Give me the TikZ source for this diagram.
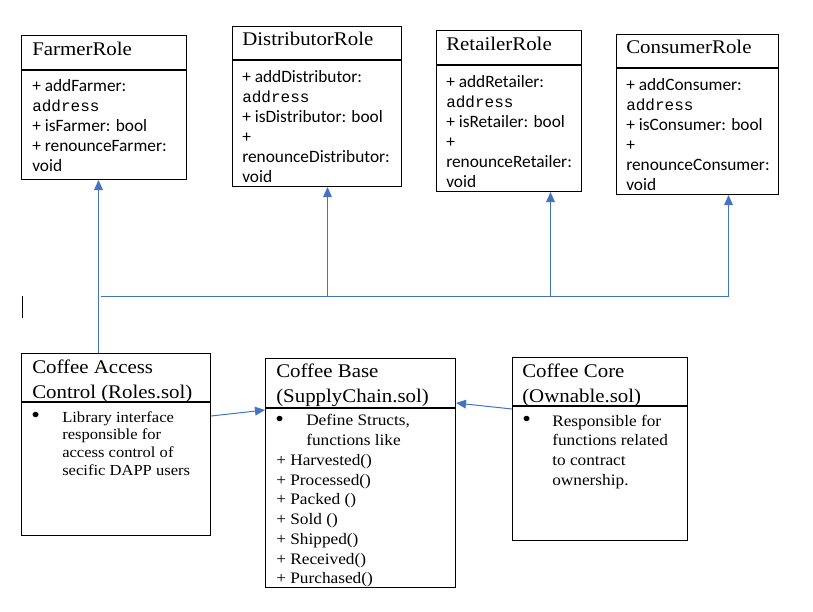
\documentclass[tikz,border=0pt]{standalone}
\usepackage{fontspec}
\setmainfont{Liberation Serif}[FakeStretch=1.08]
\setsansfont{Carlito}
\setmonofont{Liberation Mono}
\usetikzlibrary{arrows.meta,calc,positioning}
\definecolor{linkblue}{HTML}{4472C4}
\newcommand{\addr}{\texttt{\fontsize{12}{15}\selectfont address}}
\tikzset{
    boxpart/.style={draw=black,line width=0.75pt,rectangle,inner sep=0pt,anchor=north west},
    headtext/.style={anchor=base west,inner sep=0pt,align=left,font=\fontsize{14.5}{18.75}\selectfont},
    roletext/.style={anchor=base west,inner sep=0pt,align=left,font=\sffamily\fontsize{13}{15}\selectfont},
    notetext/.style={anchor=base west,inner sep=0pt,align=left,font=\fontsize{12}{14.8}\selectfont},
    smallnote/.style={notetext,font=\fontsize{11.5}{13.3}\selectfont},
    dot/.style={anchor=base west,inner sep=0pt,font=\fontsize{17}{17}\selectfont},
    link/.style={draw=linkblue,line width=0.75pt},
    uses/.style={link,-{Triangle[length=7.5pt,width=6.5pt]}}
}

\begin{document}
\begin{tikzpicture}[x=0.75pt,y=-0.75pt]
    \useasboundingbox (0,0) rectangle (813,611);

    % role classes (text nodes sit on their last baseline)
    \node[boxpart,minimum width=123.75pt,minimum height=25.5pt] (farmerhead) at (21,35) {};
    \node[boxpart,minimum width=123.75pt,minimum height=81.75pt] (farmer) at (farmerhead.south west) {};
    \node[headtext] (farmertitle) at (32,55) {FarmerRole};
    \node[roletext] (farmerops) at (32,171) {+ addFarmer:\\\addr\\+ isFarmer: bool\\+ renounceFarmer:\\void};

    \node[boxpart,minimum width=126.75pt,minimum height=24.75pt] (distributorhead) at (232,26) {};
    \node[boxpart,minimum width=126.75pt,minimum height=94.5pt] (distributor) at (distributorhead.south west) {};
    \node[headtext] (distributortitle) at (242,45) {DistributorRole};
    \node[roletext] (distributorops) at (242,182) {+ addDistributor:\\\addr\\+ isDistributor: bool\\+\\renounceDistributor:\\void};

    \node[boxpart,minimum width=108.75pt,minimum height=25.5pt] (retailerhead) at (436,30) {};
    \node[boxpart,minimum width=108.75pt,minimum height=94.5pt] (retailer) at (retailerhead.south west) {};
    \node[headtext] (retailertitle) at (446,50) {RetailerRole};
    \node[roletext] (retailerops) at (446,187) {+ addRetailer:\\\addr\\+ isRetailer: bool\\+\\renounceRetailer:\\void};

    \node[boxpart,minimum width=121.5pt,minimum height=24.75pt] (consumerhead) at (616,34) {};
    \node[boxpart,minimum width=121.5pt,minimum height=94.5pt] (consumer) at (consumerhead.south west) {};
    \node[headtext] (consumertitle) at (626,53) {ConsumerRole};
    \node[roletext] (consumerops) at (626,190) {+ addConsumer:\\\addr\\+ isConsumer: bool\\+\\renounceConsumer:\\void};

    % contracts
    \node[boxpart,minimum width=141.75pt,minimum height=36pt] (accesshead) at (21,353) {};
    \node[boxpart,minimum width=141.75pt,minimum height=99.75pt] (access) at (accesshead.south west) {};
    \node[headtext] (accesstitle) at (32,398) {Coffee Access\\Control (Roles.sol)};
    \node[dot] (accessdot) at (31,422) {\textbullet};
    \node[smallnote] (accessnote) at (62,475.2) {Library interface\\responsible for\\access control of\\secific DAPP users};

    \node[boxpart,minimum width=142.5pt,minimum height=36.75pt] (basehead) at (265,358) {};
    \node[boxpart,minimum width=142.5pt,minimum height=134.25pt] (base) at (basehead.south west) {};
    \node[headtext] (basetitle) at (276,402) {Coffee Base\\(SupplyChain.sol)};
    \node[dot] (basedot) at (275,426) {\textbullet};
    \node[notetext] (basenote) at (306,445.7) {Define Structs,\\functions like};
    \begin{scope}
        \clip (base.north west) rectangle (base.south east);
        \node[notetext] (baseops) at (276,583.8) {+ Harvested()\\+ Processed()\\+ Packed ()\\+ Sold ()\\+ Shipped()\\+ Received()\\+ Purchased()};
    \end{scope}

    \node[boxpart,minimum width=131.25pt,minimum height=36pt] (corehead) at (512,357) {};
    \node[boxpart,minimum width=131.25pt,minimum height=100.5pt] (core) at (corehead.south west) {};
    \node[headtext] (coretitle) at (522,402) {Coffee Core\\(Ownable.sol)};
    \node[dot] (coredot) at (522,426) {\textbullet};
    \node[notetext] (corenote) at (552,485.2) {Responsible for\\functions related\\to contract\\ownership.};

    % inheritance lines
    \coordinate (farmertip) at ($(farmer.south)+(-5.5,0)$);
    \coordinate (distributortip) at ($(distributor.south)+(10.5,0)$);
    \coordinate (retailertip) at ($(retailer.south)+(41.5,0)$);
    \coordinate (consumertip) at ($(consumer.south)+(31,0)$);
    \coordinate (busstart) at (101,296);

    \draw[uses] (farmertip |- accesshead.north) -- (farmertip);
    \draw[link] (busstart) -- (consumertip |- busstart);
    \draw[uses] (distributortip |- busstart) -- (distributortip);
    \draw[uses] (retailertip |- busstart) -- (retailertip);
    \draw[uses] (consumertip |- busstart) -- (consumertip);

    \draw[uses] ($(access.north east)+(0,14)$) -- ($(base.north west)+(0,2)$);
    \draw[uses] ($(core.north west)+(0,3)$) -- ($(basehead.south east)+(0,-5)$);

    % text cursor
    \draw[line width=0.75pt] (22,296) -- (22,318);
\end{tikzpicture}
\end{document}
